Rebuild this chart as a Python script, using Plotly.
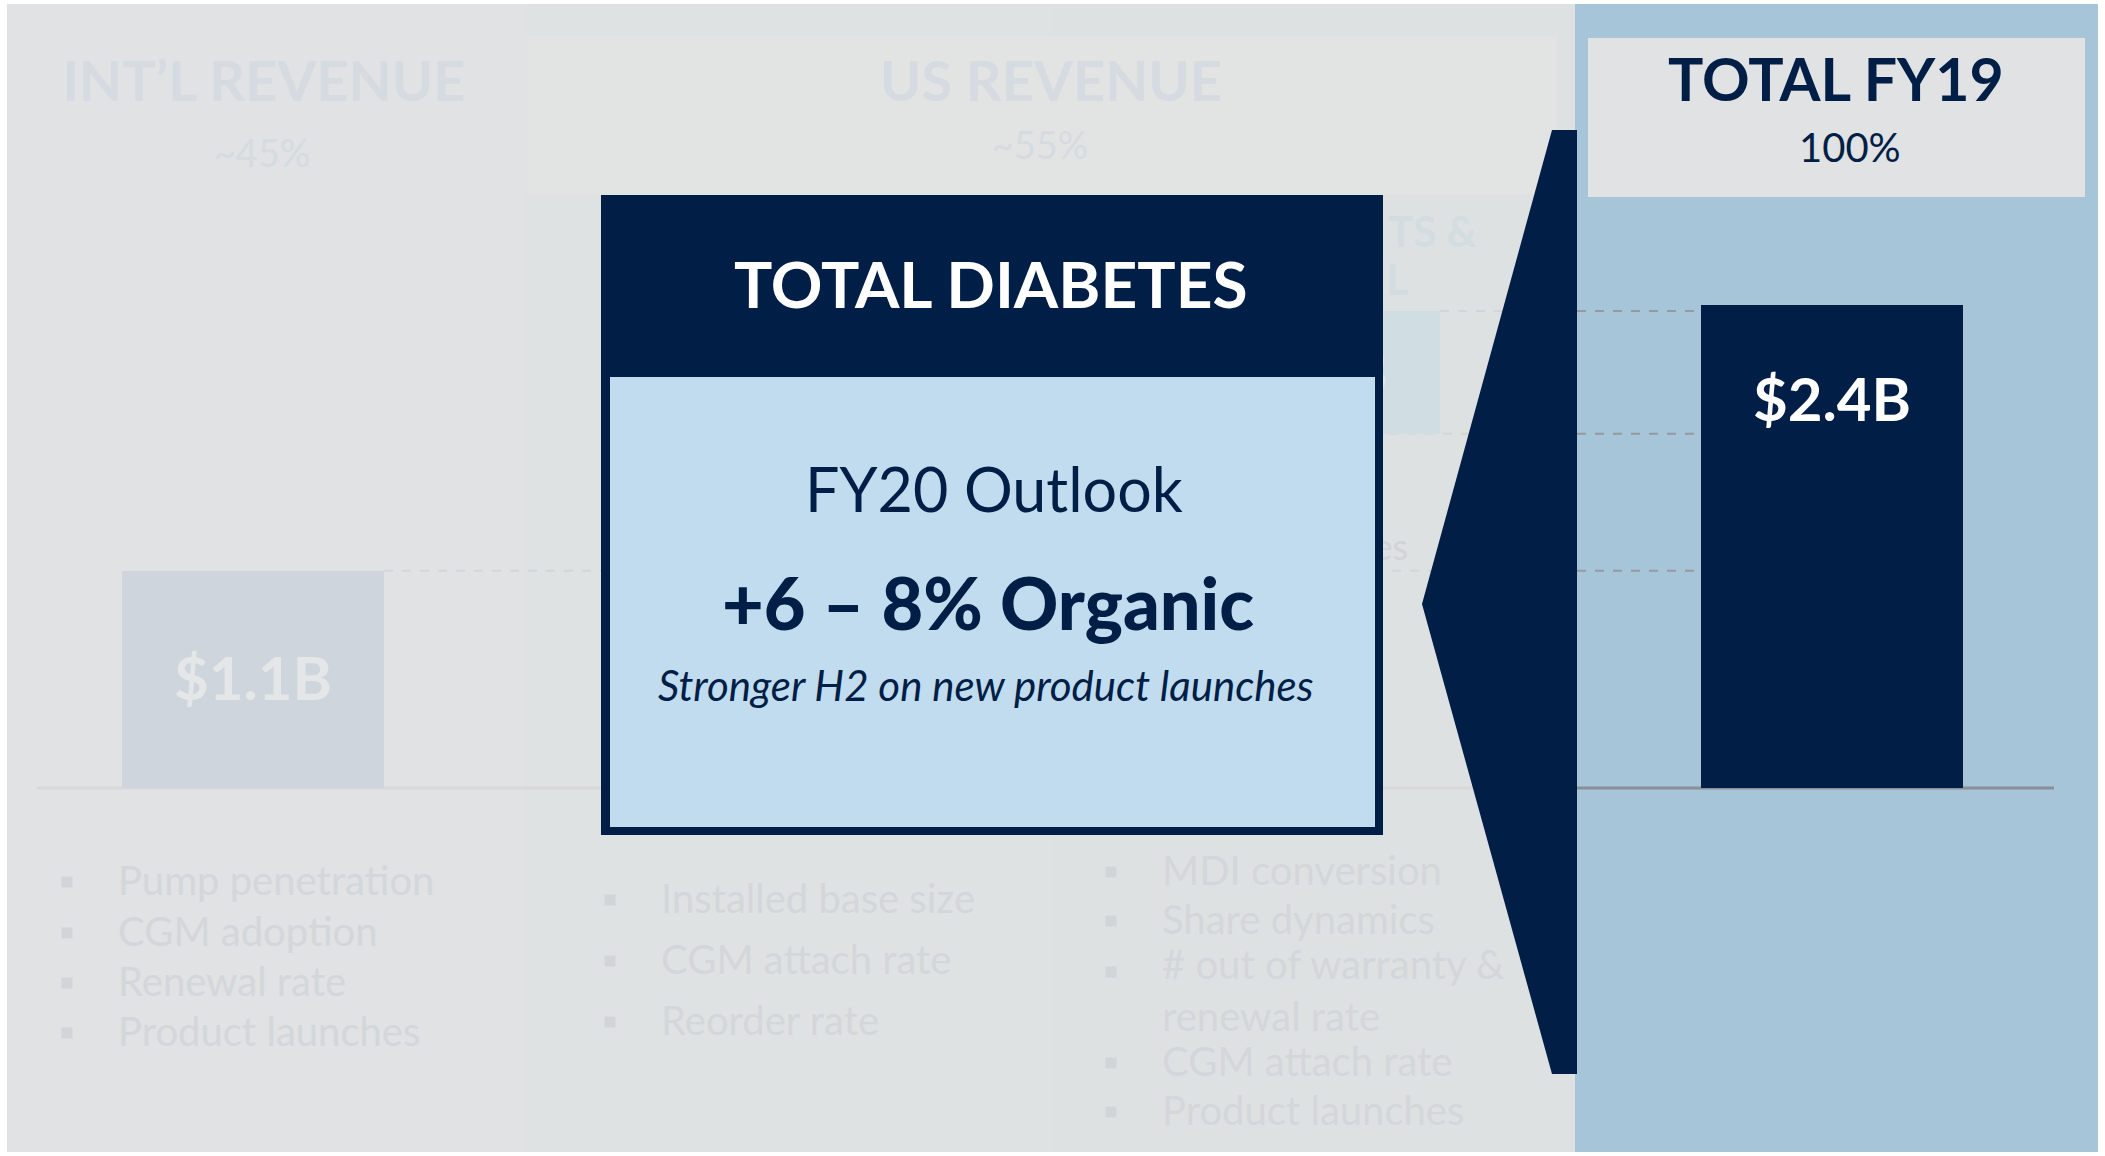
import numpy as np
import plotly.graph_objects as go

# ---------------- data ----------------
segments = ["INT\u2019L REVENUE", "US INSTALLED BASE", "US NEW PATIENTS & RENEWAL"]
segment_values = [1.08, 0.68, 0.61]          # $B
segment_labels = ["$1.1B", "", "$0.6B"]
total_label = "TOTAL FY19"
total_value = 2.40
total_text = "$2.4B"
total_share = "100%"
header_titles = ["INT\u2019L REVENUE", "US REVENUE"]
header_shares = ["~45%", "~55%"]
# fragments of the third column header / label left visible beside the box
hidden_header_parts = ["TS &", "L"]
hidden_label_part = "es"
intl_drivers = ["Pump penetration", "CGM adoption", "Renewal rate", "Product launches"]
installed_drivers = ["Installed base size", "CGM attach rate", "Reorder rate"]
newpt_drivers = ["MDI conversion", "Share dynamics", "# out of warranty &<br>renewal rate",
                 "CGM attach rate", "Product launches"]
box_title = "TOTAL DIABETES"
box_sub = "FY20 Outlook"
box_growth = "+6 \u2013 8% Organic"
box_note = "Stronger H2 on new product launches"

# ---------------- layout constants ----------------
W, H = 2105, 1156
BASE_PX = 788.0
PX_PER_B = 201.25
TXT_DY = 6.0          # scatter text renders a little high; compensate
y_hi = BASE_PX / PX_PER_B
y_lo = -(H - BASE_PX) / PX_PER_B


def yv(py, dy=TXT_DY):
    return (BASE_PX - py - dy) / PX_PER_B


def xp(px):
    return px / W


def yp(py):
    return 1 - py / H


NAVY = "#001e46"
GRAY_BG = "#e0e2e3"
BLUE_PANEL = "#a7c5d8"
BOX_BLUE = "#c0dcee"
FAINT_TXT = "#d3d7da"
FAINT_HDR = "#d5dbe1"
FONT = "Lato, 'Open Sans', 'DejaVu Sans', sans-serif"

seg_centers = [253, 790, 1309]
total_center = 1832
bar_w = 262

seg_vals = np.array(segment_values)
seg_base = np.concatenate([[0.0], np.cumsum(seg_vals)[:-1]])
seg_tops = seg_base + seg_vals
dy_b = TXT_DY / PX_PER_B

fig = go.Figure()

# waterfall segments (faded) + total bar
fig.add_trace(go.Bar(
    x=seg_centers + [total_center],
    y=list(seg_vals) + [total_value],
    base=list(seg_base) + [0.0],
    width=bar_w,
    marker=dict(color=["#cfd5dc", "#d0dce2", "#d0dde2", NAVY], line=dict(width=0)),
    hoverinfo="skip", showlegend=False,
))

# bar labels
lab_idx = [i for i, t in enumerate(segment_labels) if t]
fig.add_trace(go.Scatter(
    x=[seg_centers[i] for i in lab_idx],
    y=[seg_base[i] + seg_vals[i] / 2 - dy_b for i in lab_idx], mode="text",
    text=[segment_labels[i] for i in lab_idx], textposition="middle center",
    textfont=dict(family=FONT, size=60, color="#e4e6e8", weight="bold"),
    hoverinfo="skip", showlegend=False,
))
fig.add_trace(go.Scatter(
    x=[total_center], y=[total_value - 0.50], mode="text",
    text=[total_text], textposition="middle center",
    textfont=dict(family=FONT, size=60, color="white", weight="bold"),
    hoverinfo="skip", showlegend=False,
))

# faded headers
fig.add_trace(go.Scatter(
    x=[264, 1051], y=[yv(81), yv(81)], mode="text", text=header_titles,
    textposition="middle center",
    textfont=dict(family=FONT, size=56, color=FAINT_HDR, weight="bold"),
    hoverinfo="skip", showlegend=False,
))
fig.add_trace(go.Scatter(
    x=[262, 1040], y=[yv(151), yv(143)], mode="text", text=header_shares,
    textposition="middle center",
    textfont=dict(family=FONT, size=38, color=FAINT_HDR),
    hoverinfo="skip", showlegend=False,
))
fig.add_trace(go.Scatter(
    x=[1477, 1408], y=[yv(230), yv(278)], mode="text",
    text=hidden_header_parts, textposition="middle left",
    textfont=dict(family=FONT, size=42, color="#d3dce1", weight="bold"),
    hoverinfo="skip", showlegend=False,
))
fig.add_trace(go.Scatter(
    x=[1408], y=[yv(545)], mode="text", text=[hidden_label_part],
    textposition="middle left",
    textfont=dict(family=FONT, size=36, color="#d0d4d7"),
    hoverinfo="skip", showlegend=False,
))

# driver bullets
cols = [
    (intl_drivers, 67, 118, [882, 933, 983, 1033]),
    (installed_drivers, 610, 661, [900, 961, 1022]),
    (newpt_drivers, 1111, 1162, [872, 921, 992, 1063, 1112]),
]
for items, bx, tx, ys in cols:
    fig.add_trace(go.Scatter(
        x=[tx] * len(items), y=[yv(v, 3) for v in ys], mode="text", text=items,
        textposition="middle right",
        textfont=dict(family=FONT, size=40, color=FAINT_TXT),
        hoverinfo="skip", showlegend=False,
    ))
    by = [(BASE_PX - (v - 20 if "<br>" in t else v)) / PX_PER_B for v, t in zip(ys, items)]
    fig.add_trace(go.Scatter(
        x=[bx] * len(by), y=by, mode="markers",
        marker=dict(symbol="square", size=11, color="#d2d5d8", line=dict(width=0)),
        hoverinfo="skip", showlegend=False,
    ))

shapes = []


def rect(x0, y0, x1, y1, color, layer="below"):
    shapes.append(dict(type="rect", xref="paper", yref="paper",
                       x0=xp(x0), x1=xp(x1), y0=yp(y1), y1=yp(y0),
                       fillcolor=color, line=dict(width=0), layer=layer))


def hline(x0, x1, v, color, width, dash="solid", layer="below"):
    shapes.append(dict(type="line", xref="paper", yref="y",
                       x0=xp(x0), x1=xp(x1), y0=v, y1=v,
                       line=dict(color=color, width=width, dash=dash), layer=layer))


rect(7, 4, 1575, 1152, GRAY_BG)
rect(525, 4, 1051, 1152, "#dfe2e2")
rect(1051, 4, 1575, 1152, "#dee1e2")
rect(527, 36, 1557, 195, "#e2e4e4")
hline(37, 1575, 0, "#d6d8d9", 3)
for c, top in zip(seg_centers, seg_tops):
    hline(c + bar_w / 2, 1575, top, "#d3d6d8", 2, dash="dash")
rect(1575, 4, 2098, 1152, BLUE_PANEL)
rect(1588, 38, 2085, 197, GRAY_BG)
for top in seg_tops:
    hline(1577, total_center - bar_w / 2, top, "#959aa0", 2, dash="dash")
hline(1577, 2054, 0, "#8a9096", 3)

# funnel
pts = [(1552, 130), (1577, 130), (1577, 1074), (1552, 1074), (1422, 604)]
path = "M " + " L ".join(f"{xp(a)},{yp(b)}" for a, b in pts) + " Z"
shapes.append(dict(type="path", xref="paper", yref="paper", path=path,
                   fillcolor=NAVY, line=dict(width=0), layer="above"))
# outlook box
rect(601, 195, 1383, 835, NAVY, layer="above")
rect(610, 377, 1375, 827, BOX_BLUE, layer="above")

annotations = []


def ann(text, x, y, size, color, weight="normal", style="normal"):
    annotations.append(dict(text=text, xref="paper", yref="paper", x=xp(x), y=yp(y),
                            xanchor="center", yanchor="middle", showarrow=False,
                            font=dict(family=FONT, size=size, color=color,
                                      weight=weight, style=style)))


ann(box_title, 991, 283, 64, "white", weight="bold")
ann(box_sub, 994, 488, 61, NAVY)
ann(box_growth, 988, 602, 72, NAVY, weight=900)
ann(box_note, 986, 685, 42, NAVY, style="italic")
ann(total_label, 1836, 79, 59, NAVY, weight="bold")
ann(total_share, 1850, 147, 40, NAVY)

fig.update_layout(
    width=W, height=H, margin=dict(l=0, r=0, t=0, b=0, pad=0),
    paper_bgcolor="white", plot_bgcolor="rgba(0,0,0,0)",
    xaxis=dict(range=[0, W], visible=False, fixedrange=True),
    yaxis=dict(range=[y_lo, y_hi], visible=False, fixedrange=True),
    shapes=shapes, annotations=annotations, showlegend=False, bargap=0,
)

fig.write_html("out.html", config={"displayModeBar": False},
               post_script="document.body.style.margin='0';document.body.style.overflow='hidden';")
